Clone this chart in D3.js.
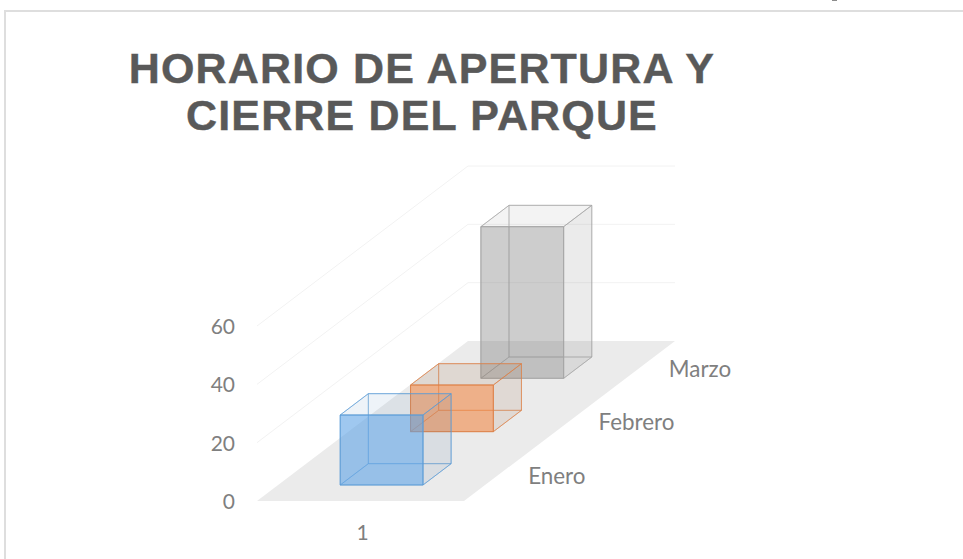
<!DOCTYPE html>
<html lang="es">
<head>
<meta charset="utf-8">
<title>Horario de apertura y cierre del parque</title>
<script src="https://d3js.org/d3.v7.min.js"></script>
<style>
    html, body { margin: 0; padding: 0; background: #fff; overflow: hidden; }
    svg { display: block; }
    .title { font-family: 'Liberation Sans', sans-serif; font-weight: bold; font-size: 43px; letter-spacing: 1.15px; fill: #595959; stroke: #595959; stroke-width: 0.4; text-anchor: middle; }
    .axis text { font-family: Lato, sans-serif; font-size: 21px; fill: #7f7f7f; }
    .axis.series text { font-size: 22.4px; }
    .grid { fill: none; stroke: #f2f2f2; stroke-width: 1; }
</style>
</head>
<body>
<svg width="963" height="559"></svg>
<script>
var titleLines = ["HORARIO DE APERTURA Y", "CIERRE DEL PARQUE"];
var categories = ["1"];
var seriesNames = ["Enero", "Febrero", "Marzo"];
var seriesValues = [24, 16, 52];
var valueTicks = [0, 20, 40, 60];

// colours for each bar: edge, front, side, top
var barColors = [
    {edge: "#5b9bd5", front: "rgba(90,160,230,.58)", side: "rgba(60,100,150,.1)", top: "rgba(90,140,190,.1)"},
    {edge: "#dd8148", front: "rgba(240,130,60,.56)", side: "rgba(150,90,50,.12)", top: "rgba(150,90,50,.13)"},
    {edge: "#a5a5a5", front: "rgba(120,120,120,.37)", side: "rgba(100,100,100,.13)", top: "rgba(100,100,100,.08)"}
];

var svg = d3.select("svg");

// the floor: front left corner, front width, depth going up the screen
var x0 = 257, y0 = 501, floorWidth = 207, floorDepth = 160, skew = 211 / 160;

var x = d3.scaleBand().domain(categories).range([0, floorWidth]).paddingInner(0.6).paddingOuter(0.3);
var depth = d3.scaleBand().domain(seriesNames).range([0, floorDepth]).paddingInner(0.6).paddingOuter(0.3);
var y = d3.scaleLinear().domain([0, 60]).range([y0, 326]);

// a point in chart space -> a point on the screen
function project(px, pd, value) {
    return [x0 + px + pd * skew, y(value) - pd];
}
var poly = d3.line();
function closed(points) { return poly(points) + "Z"; }

// frame
svg.append("path")
    .attr("d", "M5,559V11H963")
    .attr("fill", "none")
    .attr("stroke", "#dedede")
    .attr("stroke-width", 2);
svg.append("rect").attr("x", 832).attr("y", 0).attr("width", 5).attr("height", 1).attr("fill", "#8c8c8c");

// title
svg.selectAll(".title").data(titleLines).enter().append("text")
    .attr("class", "title")
    .attr("x", 422)
    .attr("y", function(d, i) { return 83 + i * 47; })
    .text(function(d) { return d; });

// floor
svg.append("path")
    .attr("d", closed([
        project(0, 0, 0), project(floorWidth, 0, 0),
        project(floorWidth, floorDepth, 0), project(0, floorDepth, 0)
    ]))
    .attr("fill", "#ebebeb");

// grid lines on the side wall and the back wall
svg.selectAll(".grid").data(valueTicks.slice(1)).enter().append("path")
    .attr("class", "grid")
    .attr("d", function(t) {
        return poly([project(0, 0, t), project(0, floorDepth, t), project(floorWidth, floorDepth, t)]);
    });

// bars, the farthest one first
var bars = seriesNames.map(function(name, i) {
    return {name: name, value: seriesValues[i], color: barColors[i]};
}).reverse();

var bar = svg.selectAll(".bar").data(bars).enter().append("g").attr("class", "bar");

bar.each(function(d) {
    var g = d3.select(this);
    var l = x(categories[0]), r = l + x.bandwidth();
    var f = depth(d.name), b = f + depth.bandwidth();
    var edge = d.color.edge;

    function face(points, fill, opacity) {
        g.append("path")
            .attr("d", closed(points))
            .attr("fill", fill)
            .attr("stroke", edge)
            .attr("stroke-opacity", opacity)
            .attr("stroke-linejoin", "round");
    }
    // hidden faces first, edges only
    face([project(l, b, 0), project(r, b, 0), project(r, b, d.value), project(l, b, d.value)], "none", 0.45);
    face([project(l, f, 0), project(r, f, 0), project(r, b, 0), project(l, b, 0)], "none", 0.45);
    face([project(l, f, 0), project(l, b, 0), project(l, b, d.value), project(l, f, d.value)], "none", 0.45);
    face([project(r, f, 0), project(r, b, 0), project(r, b, d.value), project(r, f, d.value)], d.color.side, 0.65);
    face([project(l, f, d.value), project(r, f, d.value), project(r, b, d.value), project(l, b, d.value)], d.color.top, 0.65);
    face([project(l, f, 0), project(r, f, 0), project(r, f, d.value), project(l, f, d.value)], d.color.front, 0.9);
});

// value axis
svg.append("g")
    .attr("class", "axis")
    .attr("transform", "translate(" + x0 + ",0)")
    .call(d3.axisLeft(y).tickValues(valueTicks).tickSize(0).tickPadding(22))
    .call(function(g) { g.select(".domain").remove(); })
    .selectAll("text").attr("dy", "0.35em");

// category axis
svg.append("g")
    .attr("class", "axis")
    .attr("transform", "translate(" + (x0 + 2) + "," + y0 + ")")
    .call(d3.axisBottom(x).tickSize(0).tickPadding(24))
    .call(function(g) { g.select(".domain").remove(); });

// series axis, slanted along the right edge of the floor
var seriesAxis = svg.append("g")
    .attr("class", "axis series")
    .call(d3.axisRight(depth).tickSize(0).tickPadding(29));
seriesAxis.select(".domain").remove();
seriesAxis.selectAll("text").attr("dy", "0.42em");
seriesAxis.selectAll(".tick").attr("transform", function(d) {
    var p = project(floorWidth, depth(d) + depth.bandwidth() / 2, 0);
    return "translate(" + p[0] + "," + p[1] + ")";
});
</script>
</body>
</html>
